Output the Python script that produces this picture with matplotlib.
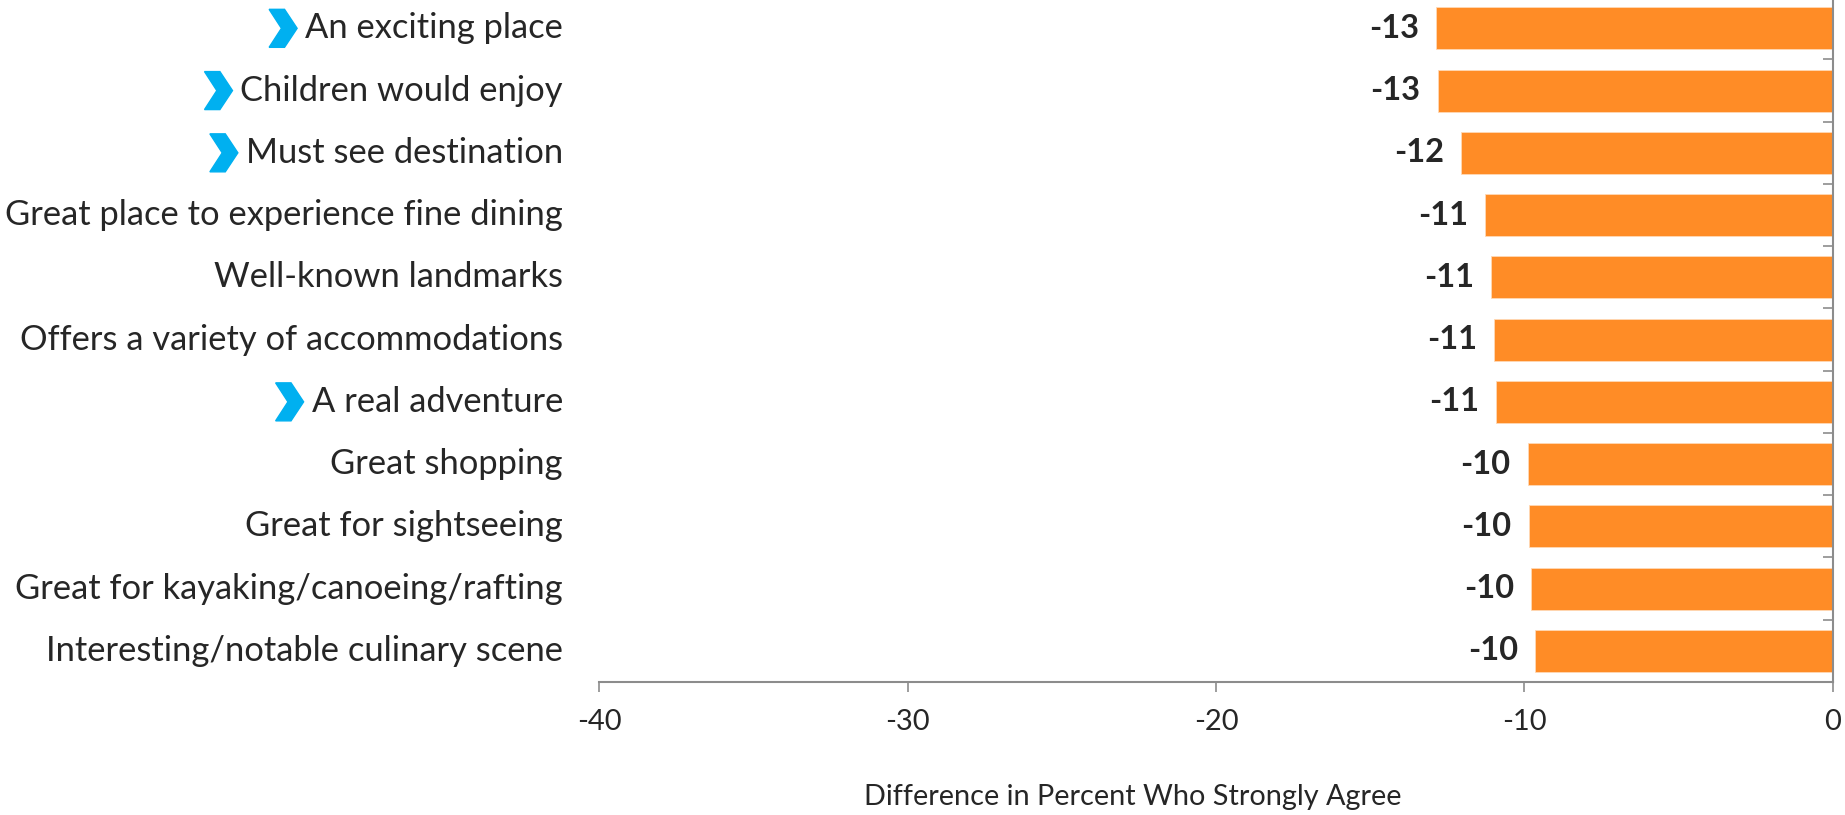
import matplotlib.pyplot as plt
import numpy as np
from matplotlib.patches import Polygon
from matplotlib.transforms import IdentityTransform

plt.rcParams['font.family'] = ['Lato', 'DejaVu Sans']

categories = ['An exciting place', 'Children would enjoy', 'Must see destination',
              'Great place to experience fine dining', 'Well-known landmarks',
              'Offers a variety of accommodations', 'A real adventure',
              'Great shopping', 'Great for sightseeing',
              'Great for kayaking/canoeing/rafting', 'Interesting/notable culinary scene']
values = [-12.87, -12.82, -12.06, -11.29, -11.07, -11.0, -10.91, -9.90, -9.87, -9.79, -9.65]
flagged = ['An exciting place', 'Children would enjoy', 'Must see destination', 'A real adventure']
xticks = [-40, -30, -20, -10, 0]
xlabel = 'Difference in Percent Who Strongly Agree'

orange = '#FF8C26'
blue = '#00B0F0'
grey = '#8C8C8C'
txt = '#262626'

fig = plt.figure(figsize=(18.45, 8.15), dpi=100)
ax = fig.add_axes([599/1845, 1-682/815, (1833-599)/1845, (682+2.8)/815])

y = np.arange(len(categories))
ax.barh(y, values, height=0.675, color=orange, edgecolor='#FFD9B5', linewidth=0.6)
ax.set_xlim(-40, 0)
ax.set_ylim(len(categories)-0.5, -0.5)

for s in ['top', 'left']:
    ax.spines[s].set_visible(False)
for s in ['bottom', 'right']:
    ax.spines[s].set_color(grey)
    ax.spines[s].set_linewidth(1.5)

ax.set_xticks(xticks)
ax.set_xticklabels([str(t) for t in xticks])
ax.tick_params(axis='x', direction='out', length=7.5, width=1.2, color=grey,
               labelsize=21, labelcolor=txt, pad=12)
ax.yaxis.tick_right()
ax.set_yticks([])
ax.set_yticks(np.arange(-0.5, len(categories)), minor=True)
ax.tick_params(axis='y', which='minor', direction='in', length=7.5, width=1.2, color=grey,
               labelright=False, right=True)

labels = []
for i, (c, v) in enumerate(zip(categories, values)):
    t = ax.annotate(c, xy=(0, i), xycoords=ax.get_yaxis_transform(),
                    xytext=(-36, 0), textcoords='offset pixels',
                    ha='right', va='center', fontsize=24.8, color=txt)
    labels.append(t)
    ax.annotate(f'{round(v):d}', xy=(v, i), xytext=(-17, 0), textcoords='offset pixels',
                ha='right', va='center', fontsize=23.5, fontweight='bold', color=txt)

fig.text(1133/1845, 1-797/815, xlabel, ha='center', va='center', fontsize=20.8, color=txt)

# chevrons in front of highlighted labels
fig.canvas.draw()
r = fig.canvas.get_renderer()
for t, c in zip(labels, categories):
    if c not in flagged:
        continue
    bb = t.get_window_extent(r)
    cy = ax.transData.transform((0, categories.index(c)))[1]
    w, h = 28, 38
    x1 = bb.x0 - 8
    x0 = x1 - w
    pts = [(x0, cy + h/2), (x0 + 0.55*w, cy + h/2), (x1, cy),
           (x0 + 0.55*w, cy - h/2), (x0, cy - h/2), (x0 + 0.44*w, cy)]
    fig.add_artist(Polygon(pts, closed=True, color=blue, transform=IdentityTransform()))

fig.savefig('out.png', dpi=100)
